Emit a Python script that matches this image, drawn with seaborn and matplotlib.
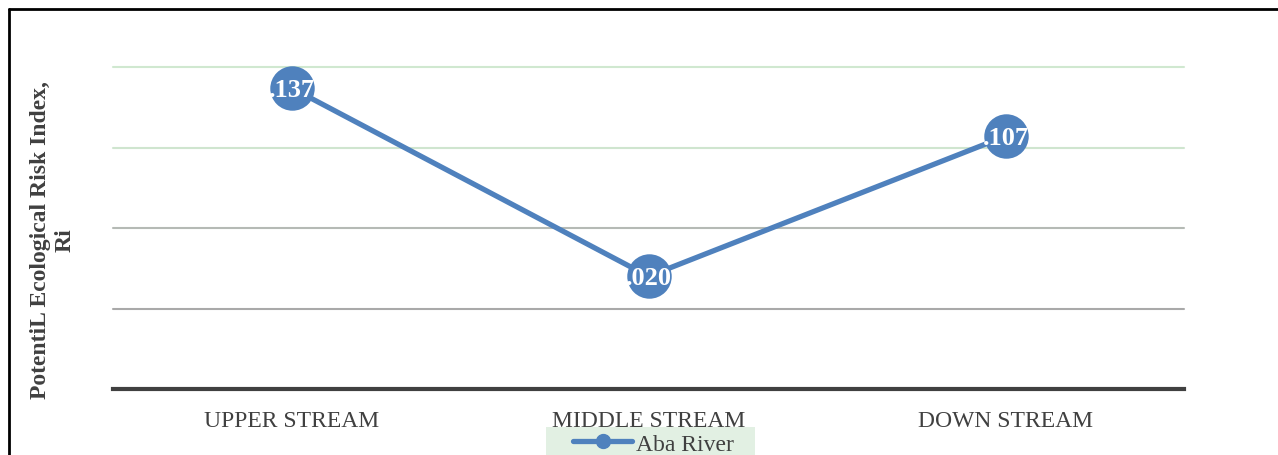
import matplotlib
matplotlib.use("Agg")
import matplotlib.pyplot as plt
import seaborn as sns
import pandas as pd
from matplotlib.lines import Line2D
from matplotlib.patches import Rectangle

categories = ["UPPER STREAM", "MIDDLE STREAM", "DOWN STREAM"]
values = [0.137, 0.020, 0.107]
labels = [".137", ".020", ".107"]
series_name = "Aba River"
yticks = [-0.05, 0.0, 0.05, 0.10, 0.15]

sns.set_theme(style="white")
plt.rcParams['font.family'] = ['Liberation Serif', 'DejaVu Serif']

df = pd.DataFrame({"loc": categories, "val": values})

fig = plt.figure(figsize=(12.78, 4.56), dpi=100)
ax = fig.add_axes([113/1278, 1-390/456, 1071/1278, (390-68)/456])

blue = "#4f81bd"
sns.lineplot(data=df, x="loc", y="val", sort=False, ax=ax, color=blue,
             linewidth=3.8, marker="o", markersize=32, markeredgewidth=0,
             clip_on=False, legend=False)

for i, (v, t) in enumerate(zip(values, labels)):
    ax.text(i, v - 0.001, t, ha="center", va="center", color="white",
            fontsize=19, fontweight="bold", zorder=5)

ax.set_xlim(-0.5, 2.5)
ax.set_ylim(-0.05, 0.15)
ax.set_yticks(yticks)
ax.set_yticklabels([])
ax.tick_params(axis="y", length=0)
ax.tick_params(axis="x", length=0, labelsize=17, labelcolor="#404040", pad=15)
ax.grid(axis="y")
gcols = [None, "#a9a9a9", "#b5bab5", "#cfe5cf", "#d0e8d0"]
for c, gl in zip(gcols, ax.get_ygridlines()):
    if c is None:
        gl.set_visible(False)
    else:
        gl.set_color(c)
        gl.set_linewidth(1.5)
        gl.set_clip_on(False)
for s in ["top", "right", "left"]:
    ax.spines[s].set_visible(False)
ax.spines["bottom"].set_color("#404040")
ax.spines["bottom"].set_linewidth(3)
ax.set_xlabel("")
ax.set_ylabel("PotentiL Ecological Risk Index,\nRi", fontsize=17,
              fontweight="bold", color="#404040", linespacing=1.25,
              va="center")
ax.yaxis.set_label_coords((53 - 113) / 1071, (390 - 240) / 322)

# legend background band
fig.add_artist(Rectangle((546/1278, 0), (755-546)/1278, (456-428)/456,
                         transform=fig.transFigure, facecolor="#e2f0e3",
                         edgecolor="none", zorder=0))
handle = Line2D([], [], color=blue, linewidth=3.8, marker="o", markersize=10)
leg = fig.legend([handle], [series_name], loc="center left",
                 bbox_to_anchor=(573/1278, 1-445/456), frameon=False,
                 fontsize=17, handlelength=2.5, handletextpad=0.15,
                 borderpad=0, borderaxespad=0, labelcolor="#404040")

# figure border (left and top visible)
fig.add_artist(Line2D([8.5/1278, 8.5/1278], [0, 1-10/456], color="black",
                      linewidth=2, transform=fig.transFigure))
fig.add_artist(Line2D([8.5/1278, 1], [1-10/456, 1-10/456], color="black",
                      linewidth=2, transform=fig.transFigure))

fig.savefig("out.png", dpi=100)
